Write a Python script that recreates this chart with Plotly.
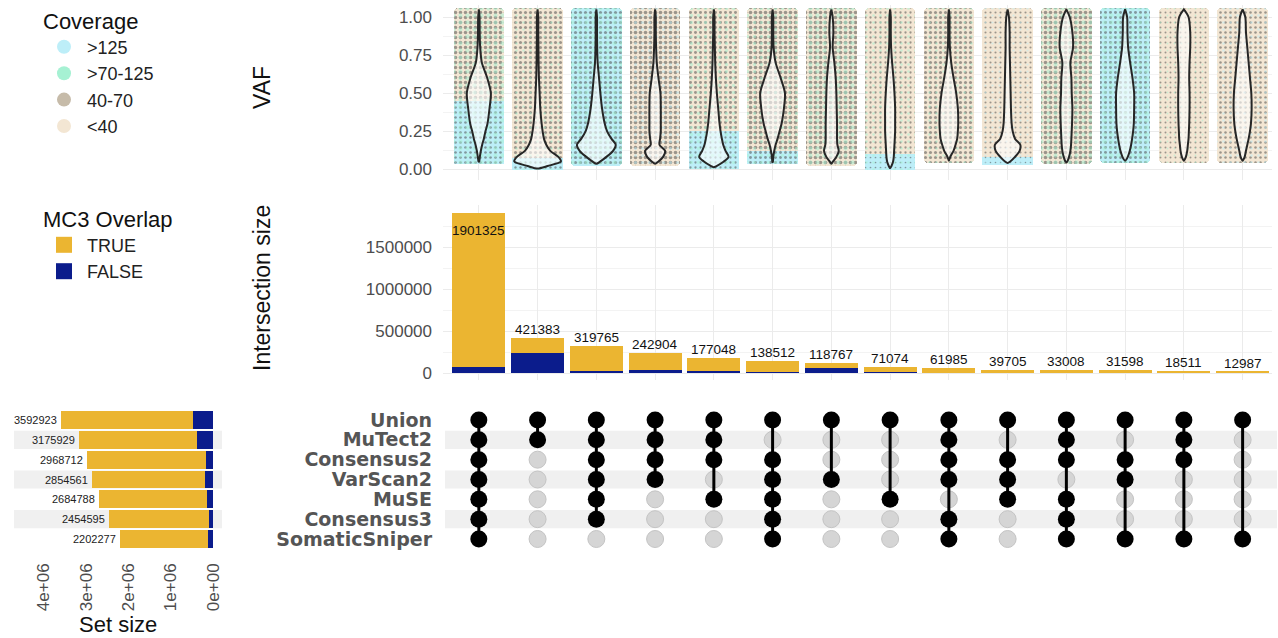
import plotly.graph_objects as go

W, H = 1278, 638

# ---------------- data ----------------
set_names = ["Union", "MuTect2", "Consensus2", "VarScan2", "MuSE", "Consensus3", "SomaticSniper"]
set_sizes = [3592923, 3175929, 2968712, 2854561, 2684788, 2454595, 2202277]
set_sizes_mc3_false = [470000, 370000, 170000, 200000, 135000, 100000, 110000]

intersection_sizes = [1901325, 421383, 319765, 242904, 177048, 138512, 118767,
                      71074, 61985, 39705, 33008, 31598, 18511, 12987]
intersection_mc3_false = [70000, 235000, 22000, 35000, 20000, 12000, 55000,
                          12000, 6000, 5000, 4000, 8000, 5000, 4000]

membership = {
    "Union":         [1, 1, 1, 1, 1, 1, 1, 1, 1, 1, 1, 1, 1, 1],
    "MuTect2":       [1, 1, 1, 1, 1, 0, 0, 0, 1, 0, 1, 0, 1, 0],
    "Consensus2":    [1, 0, 1, 1, 1, 1, 0, 0, 1, 1, 1, 1, 1, 0],
    "VarScan2":      [1, 0, 1, 1, 0, 1, 1, 0, 1, 1, 0, 1, 0, 0],
    "MuSE":          [1, 0, 1, 0, 1, 1, 0, 1, 0, 1, 1, 0, 0, 0],
    "Consensus3":    [1, 0, 1, 0, 0, 1, 0, 0, 1, 0, 1, 0, 0, 0],
    "SomaticSniper": [1, 0, 0, 0, 0, 1, 0, 0, 1, 0, 1, 1, 1, 1],
}

coverage_classes = [">125", ">70-125", "40-70", "<40"]
mc3_levels = ["TRUE", "FALSE"]

# VAF range per intersection
vaf_min = [0.048, 0.003, 0.035, 0.035, 0.012, 0.045, 0.035, 0.005, 0.055, 0.040, 0.045, 0.055, 0.055, 0.055]
vaf_max = [1.05, 1.05, 1.05, 1.05, 1.05, 1.05, 1.05, 1.05, 1.05, 1.05, 1.05, 1.05, 1.05, 1.05]

# violin density profile (relative half-width) at these VAF levels
vaf_levels = [0.02, 0.05, 0.08, 0.12, 0.16, 0.2, 0.25, 0.3, 0.4, 0.5, 0.6, 0.7, 0.8, 0.9, 1.0]
violin_density = [
    [None, 1, 3, 6, 10, 15, 20, 26, 32, 36, 25, 9, 4, 2.5, 2],
    [30, 70, 62, 38, 26, 19, 15, 12, 8, 6, 4, 3, 2.5, 2, 2],
    [None, 12, 30, 50, 58, 45, 32, 25, 17, 12, 8, 4, 2.5, 2, 2],
    [None, 10, 24, 30, 13, 15, 17, 17, 17, 16, 10, 5, 3, 2, 2],
    [8, 30, 44, 35, 28, 24, 20, 17, 13, 9, 6, 4, 3, 2, 2],
    [None, 1, 2, 5, 9, 15, 21, 27, 34, 37, 24, 9, 3, 2, 2],
    [None, 5, 15, 22, 18, 17, 17, 17, 16, 15, 13, 9, 4, 6, 4],
    [4, 9, 11, 12, 13, 14, 15, 15, 15, 13, 10, 6, 3, 2, 2],
    [None, None, 4, 14, 20, 25, 27, 28, 27, 22, 14, 7, 3, 2, 2],
    [None, 8, 22, 36, 38, 22, 15, 12, 10, 9, 8, 7, 6, 6, 4],
    [None, 3, 8, 12, 14, 15, 16, 17, 18, 16, 15, 12, 20, 18, 10],
    [None, 2, 8, 14, 18, 21, 24, 26, 27, 27, 22, 15, 9, 7, 6],
    [None, 2, 6, 10, 12, 14, 15, 16, 17, 17, 16, 17, 19, 19, 14],
    [None, 2, 6, 10, 14, 18, 22, 25, 27, 26, 22, 18, 14, 10, 8],
]

# jittered point cloud composition per intersection (dominant coverage classes)
cloud_main_class = ["<40", "<40", ">125", "<40", "<40", "<40", "<40", "<40", "<40", "<40", "<40", ">125", "<40", "<40"]
cloud_speck_class = ["40-70"] * 14
cloud_speck_share = [0.38, 0.30, 0.32, 0.42, 0.28, 0.42, 0.42, 0.16, 0.30, 0.14, 0.42, 0.28, 0.12, 0.20]
cloud_minor_class = [">70-125", ">70-125", ">70-125", ">125", ">70-125", ">70-125", ">70-125", ">70-125",
                     ">70-125", ">125", ">70-125", ">70-125", ">70-125", ">125"]
cloud_minor_share = [0.30, 0.10, 0.30, 0.16, 0.20, 0.18, 0.30, 0.12, 0.10, 0.08, 0.30, 0.35, 0.05, 0.12]
cloud_low_class = [">125", ">125", ">125", "<40", ">125", ">125", "<40", ">125", "<40", ">125", "<40", ">125", "<40", "<40"]
cloud_low_top = [0.45, 0.07, 0.0, 0.0, 0.25, 0.12, 0.0, 0.10, 0.0, 0.08, 0.0, 0.0, 0.0, 0.0]

# ---------------- styles ----------------
FONT = "Liberation Sans"
coverage_colors = {">125": "#BDEEF8", ">70-125": "#A6F1D3", "40-70": "#C6BBA9", "<40": "#F3E6D3"}
mc3_colors = {"TRUE": "#EBB531", "FALSE": "#0B1C8C"}
GRID = "#EBEBEB"
GRID_MINOR = "#F3F3F3"
TICK_GREY = "#4D4D4D"
STRIPE = "#F0F0F0"

n = len(intersection_sizes)
cols = list(range(1, n + 1))
VIOLIN_SCALE = 1 / 176.0
JIT = 0.012


def px_x(p):
    return p / W


def px_y(p):
    return 1 - p / H


fig = go.Figure()

# ---------- VAF panel: point clouds ----------
cloud_base = [vaf_min[i] - JIT for i in range(n)]
cloud_h = [vaf_max[i] + JIT - cloud_base[i] for i in range(n)]
fig.add_trace(go.Bar(
    x=cols, y=cloud_h, base=cloud_base, width=0.86, xaxis="x", yaxis="y",
    marker=dict(color=[coverage_colors[c] for c in cloud_main_class], line=dict(width=0), cornerradius=4,
                pattern=dict(shape=".", fillmode="overlay",
                             fgcolor=[coverage_colors[c] for c in cloud_speck_class],
                             solidity=cloud_speck_share, size=5)),
    showlegend=False, hoverinfo="skip"))
low_h = [max(cloud_low_top[i] - cloud_base[i], 0) if cloud_low_top[i] > 0 else 0 for i in range(n)]
fig.add_trace(go.Bar(
    x=cols, y=low_h, base=cloud_base, width=0.86, xaxis="x", yaxis="y",
    marker=dict(color=[coverage_colors[c] for c in cloud_low_class], line=dict(width=0),
                pattern=dict(shape=".", fillmode="overlay",
                             fgcolor=[coverage_colors[c] for c in cloud_speck_class],
                             solidity=[s * 0.6 for s in cloud_speck_share], size=5)),
    showlegend=False, hoverinfo="skip"))
fig.add_trace(go.Bar(
    x=cols, y=cloud_h, base=cloud_base, width=0.86, xaxis="x", yaxis="y",
    marker=dict(color="rgba(0,0,0,0)", line=dict(width=0), cornerradius=4,
                pattern=dict(shape=".", fillmode="overlay", bgcolor="rgba(0,0,0,0)",
                             fgcolor=[coverage_colors[c] for c in cloud_minor_class],
                             solidity=cloud_minor_share, size=7)),
    showlegend=False, hoverinfo="skip"))

# ---------- VAF panel: violins ----------
for i in range(n):
    xc = cols[i]
    pts = [(v, d) for v, d in zip(vaf_levels, violin_density[i]) if d is not None and v > vaf_min[i]]
    ys = [vaf_min[i]] + [v for v, _ in pts] + [vaf_max[i]]
    hs = [0] + [d * VIOLIN_SCALE for _, d in pts] + [0]
    vx = [xc + h for h in hs] + [xc - h for h in reversed(hs)]
    vy = ys + list(reversed(ys))
    fig.add_trace(go.Scatter(
        x=vx, y=vy, xaxis="x", yaxis="y", mode="lines", fill="toself",
        fillcolor="rgba(255,255,255,0.6)",
        line=dict(color="#262626", width=2, shape="spline", smoothing=0.8),
        showlegend=False, hoverinfo="skip"))

# ---------- intersection bars ----------
mc3_true = [t - f for t, f in zip(intersection_sizes, intersection_mc3_false)]
fig.add_trace(go.Bar(x=cols, y=intersection_mc3_false, width=0.9, xaxis="x2", yaxis="y2",
                     marker=dict(color=mc3_colors["FALSE"], line=dict(width=0)),
                     showlegend=False, name="FALSE"))
fig.add_trace(go.Bar(x=cols, y=mc3_true, width=0.9, xaxis="x2", yaxis="y2",
                     marker=dict(color=mc3_colors["TRUE"], line=dict(width=0)),
                     showlegend=False, name="TRUE"))

ymax_bar = max(intersection_sizes)
for i in range(n):
    inside = intersection_sizes[i] > 0.9 * ymax_bar
    fig.add_annotation(x=cols[i], y=intersection_sizes[i], xref="x2", yref="y2",
                       text=str(intersection_sizes[i]), showarrow=False, xanchor="center",
                       yanchor="top" if inside else "bottom", yshift=-8 if inside else -1,
                       font=dict(family=FONT, size=13.5, color="#111111"))

# ---------- set size bars ----------
rows = list(range(len(set_names)))
set_true = [t - f for t, f in zip(set_sizes, set_sizes_mc3_false)]
fig.add_trace(go.Bar(y=rows, x=set_sizes_mc3_false, orientation="h", width=0.9, xaxis="x4", yaxis="y4",
                     marker=dict(color=mc3_colors["FALSE"], line=dict(width=0)), showlegend=False))
fig.add_trace(go.Bar(y=rows, x=set_true, orientation="h", width=0.9, xaxis="x4", yaxis="y4",
                     marker=dict(color=mc3_colors["TRUE"], line=dict(width=0)), showlegend=False))
for r in rows:
    fig.add_annotation(x=set_sizes[r], y=r, xref="x4", yref="y4", text=str(set_sizes[r]),
                       showarrow=False, xanchor="right", yanchor="middle", xshift=-2,
                       font=dict(family=FONT, size=11, color="#222222"))

# ---------- matrix ----------
gx, gy, bx, by, lx, ly = [], [], [], [], [], []
for r, name in enumerate(set_names):
    for c in range(n):
        if membership[name][c]:
            bx.append(cols[c]); by.append(r)
        else:
            gx.append(cols[c]); gy.append(r)
for c in range(n):
    mem = [r for r, name in enumerate(set_names) if membership[name][c]]
    if len(mem) > 1:
        lx += [cols[c], cols[c], None]
        ly += [min(mem), max(mem), None]
fig.add_trace(go.Scatter(x=gx, y=gy, mode="markers", xaxis="x3", yaxis="y3",
                         marker=dict(size=17, color="#D5D5D5", line=dict(color="#C4C4C4", width=1)),
                         showlegend=False, hoverinfo="skip"))
fig.add_trace(go.Scatter(x=lx, y=ly, mode="lines", xaxis="x3", yaxis="y3",
                         line=dict(color="#000000", width=3), showlegend=False, hoverinfo="skip"))
fig.add_trace(go.Scatter(x=bx, y=by, mode="markers", xaxis="x3", yaxis="y3",
                         marker=dict(size=17, color="#000000"), showlegend=False, hoverinfo="skip"))

# stripes
for r in rows:
    if r % 2 == 1:
        fig.add_shape(type="rect", xref="paper", yref="y3", x0=px_x(445), x1=px_x(1277),
                      y0=r - 0.46, y1=r + 0.46, fillcolor=STRIPE, line=dict(width=0), layer="below")
        fig.add_shape(type="rect", xref="x4 domain", yref="y4", x0=0, x1=1,
                      y0=r - 0.46, y1=r + 0.46, fillcolor=STRIPE, line=dict(width=0), layer="below")

# ---------- legends (dummy entries) ----------
for c in coverage_classes:
    fig.add_trace(go.Scatter(x=[None], y=[None], mode="markers", name=c, legend="legend",
                             marker=dict(size=14, color=coverage_colors[c])))
for lv in mc3_levels:
    fig.add_trace(go.Scatter(x=[None], y=[None], mode="markers", name=lv, legend="legend2",
                             marker=dict(size=16, symbol="square", color=mc3_colors[lv])))

# ---------- axes ----------
xdom = [px_x(443), px_x(1272)]
xr = [0.39, 14.5]
common_x = dict(range=xr, domain=xdom, tickvals=cols, showticklabels=False, ticks="", automargin=False,
                showgrid=True, gridcolor=GRID, gridwidth=1, zeroline=False, showline=False)
tickfont = dict(family=FONT, size=17, color=TICK_GREY)

fig.update_layout(
    width=W, height=H, margin=dict(l=0, r=0, t=0, b=0, autoexpand=False),
    paper_bgcolor="white", plot_bgcolor="white", barmode="stack", bargap=0,
    font=dict(family=FONT, color="#000000"),
    xaxis=dict(**common_x, anchor="y"),
    yaxis=dict(domain=[px_y(180), px_y(5)], range=[-0.072, 1.079], automargin=False,
               tickvals=[0, 0.25, 0.5, 0.75, 1.0], ticktext=["0.00", "0.25", "0.50", "0.75", "1.00"],
               tickfont=tickfont, ticks="", ticklabelstandoff=10,
               showgrid=True, gridcolor=GRID, zeroline=False, anchor="x",
               minor=dict(tickvals=[0.125, 0.375, 0.625, 0.875], showgrid=True, gridcolor=GRID_MINOR, ticks="")),
    xaxis2=dict(**common_x, anchor="y2"),
    yaxis2=dict(domain=[px_y(380), px_y(205)], range=[-83333, 2000000], automargin=False,
                tickvals=[0, 500000, 1000000, 1500000], ticktext=["0", "500000", "1000000", "1500000"],
                tickfont=tickfont, ticks="", ticklabelstandoff=10,
                showgrid=True, gridcolor=GRID, zeroline=False, anchor="x2",
                minor=dict(tickvals=[250000, 750000, 1250000, 1750000], showgrid=True, gridcolor=GRID_MINOR, ticks="")),
    xaxis3=dict(range=xr, domain=xdom, showticklabels=False, ticks="", showgrid=False, automargin=False,
                zeroline=False, anchor="y3"),
    yaxis3=dict(domain=[px_y(551), px_y(408)], range=[6.605, -0.605], tickvals=rows, ticktext=set_names,
                tickfont=dict(family="DejaVu Sans", size=19, color="#555555", weight="bold"), ticks="",
                ticklabelstandoff=10, showgrid=False, zeroline=False, anchor="x3", automargin=False),
    xaxis4=dict(domain=[px_x(14), px_x(222)], range=[4.705e6, -0.213e6], automargin=False,
                tickvals=[0, 1e6, 2e6, 3e6, 4e6], ticktext=["0e+00", "1e+06", "2e+06", "3e+06", "4e+06"],
                tickangle=-90, tickfont=tickfont, ticks="", ticklabelstandoff=8,
                showgrid=False, zeroline=False, anchor="y4"),
    yaxis4=dict(domain=[px_y(551), px_y(408)], range=[6.605, -0.605], showticklabels=False, automargin=False,
                ticks="", showgrid=False, zeroline=False, anchor="x4"),
    legend=dict(x=px_x(41), y=px_y(0), xanchor="left", yanchor="top", traceorder="normal",
                title=dict(text="Coverage", font=dict(family=FONT, size=22, color="#111111")),
                font=dict(family=FONT, size=18, color="#222222"), bgcolor="rgba(0,0,0,0)",
                itemsizing="trace", tracegroupgap=0, itemwidth=36),
    legend2=dict(x=px_x(41), y=px_y(198), xanchor="left", yanchor="top", traceorder="normal",
                 title=dict(text="MC3 Overlap", font=dict(family=FONT, size=22, color="#111111")),
                 font=dict(family=FONT, size=18, color="#222222"), bgcolor="rgba(0,0,0,0)",
                 itemsizing="trace", tracegroupgap=0, itemwidth=36),
)

# axis titles
title_font = dict(family=FONT, size=23, color="#111111")
fig.add_annotation(text="VAF", x=px_x(262), y=px_y(88), xref="paper", yref="paper", textangle=-90,
                   xanchor="center", yanchor="middle", showarrow=False, font=title_font)
fig.add_annotation(text="Intersection size", x=px_x(262), y=px_y(288), xref="paper", yref="paper",
                   xanchor="center", yanchor="middle", textangle=-90, showarrow=False, font=title_font)
fig.add_annotation(text="Set size", x=px_x(118), y=px_y(624), xref="paper", yref="paper",
                   xanchor="center", yanchor="middle", showarrow=False,
                   font=dict(family=FONT, size=22, color="#111111"))

fig.write_html("out.html", config={"displayModeBar": False},
               post_script="document.body.style.margin='0px';")
